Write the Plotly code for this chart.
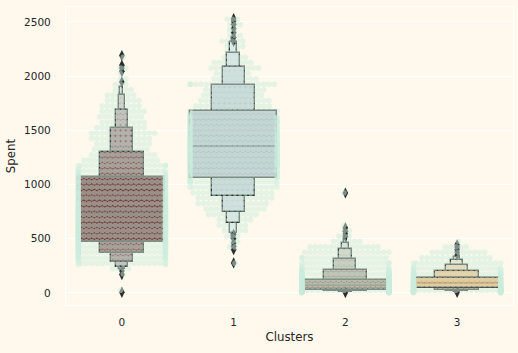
import plotly.graph_objects as go

# ---------------- data ----------------
clusters = [0, 1, 2, 3]
tick_labels = ["0", "1", "2", "3"]
y_ticks = [0, 500, 1000, 1500, 2000, 2500]

palette = ["#682F2F", "#B9C0C9", "#9F8A78", "#F3AB60"]

# letter-value boxes, innermost (level 1) first: (upper, lower)
lv_upper_0 = [1068, 1302, 1525, 1688, 1825, 1900]
lv_lower_0 = [470, 366, 289, 243, 221, 212]
lv_upper_1 = [1675, 1919, 2082, 2211, 2316, 2360]
lv_lower_1 = [1058, 895, 750, 643, 551, 500]
lv_upper_2 = [120, 212, 318, 406, 460, 495]
lv_lower_2 = [28, 20, 14, 10, 8, 6]
lv_upper_3 = [141, 203, 258, 304, 335]
lv_lower_3 = [43, 30, 20, 14, 10]

medians = [740, 1356, 72, 92]

outliers_0 = [6, 170, 205, 1947, 2045, 2075, 2100, 2190]
outliers_1 = [277, 400, 430, 460, 500, 540, 2320, 2360, 2400, 2440, 2480, 2510, 2530]
outliers_2 = [4, 520, 545, 570, 600, 922]
outliers_3 = [6, 350, 375, 400, 425, 445]

# swarm: number of customers per 50-unit "Spent" band (band k covers 50k..50k+50)
swarm_counts_0 = [1, 0, 0, 1, 4, 20, 24, 26, 28, 30, 30, 30, 30, 30, 30, 28, 28, 27, 26, 25,
                  25, 24, 22, 19, 15, 13, 11, 11, 12, 13, 10, 9, 9, 9, 8, 7, 6, 4, 3, 2,
                  1, 2, 0, 1]
swarm_counts_1 = [0, 0, 0, 0, 0, 1, 0, 0, 2, 2, 3, 5, 6, 7, 10, 12, 14, 15, 16, 18,
                  20, 22, 24, 25, 26, 26, 26, 26, 25, 24, 24, 23, 22, 18, 15, 14, 12, 12, 18, 9,
                  7, 10, 8, 5, 3, 4, 5, 3, 2, 3, 3]
swarm_counts_2 = [60, 50, 40, 32, 24, 19, 18, 17, 14, 6, 3, 2, 1, 0, 0, 0, 0, 0, 1]
swarm_counts_3 = [50, 40, 32, 26, 22, 18, 14, 11, 5, 1]

lv_upper = [lv_upper_0, lv_upper_1, lv_upper_2, lv_upper_3]
lv_lower = [lv_lower_0, lv_lower_1, lv_lower_2, lv_lower_3]
outliers = [outliers_0, outliers_1, outliers_2, outliers_3]
swarm_counts = [swarm_counts_0, swarm_counts_1, swarm_counts_2, swarm_counts_3]

# ---------------- styling ----------------
BG = "#FFF9ED"
EDGE = "#2d2d2d"
MINT = "rgba(203,237,221,0.5)"
TEXT = "#262626"
BAND = 50
FULL_W = 0.78


def hex_to_rgb(h):
    h = h.lstrip("#")
    return tuple(int(h[i:i + 2], 16) for i in (0, 2, 4))


def level_color(base, i, k):
    r, g, b = hex_to_rgb(base)
    t = 0.85 * i / max(k - 1, 1)
    return "rgb(%d,%d,%d)" % (round(r + (255 - r) * t), round(g + (255 - g) * t), round(b + (255 - b) * t))


fig = go.Figure()

# boxes: outermost levels first so that level 1 sits on top
for c, cx in enumerate(clusters):
    k = len(lv_upper[c])
    for i in reversed(range(k)):
        w = FULL_W * (0.5 ** i) * (1.0 if i < 3 else 1.15)
        fig.add_trace(go.Bar(
            x=[cx], y=[lv_upper[c][i] - lv_lower[c][i]], base=[lv_lower[c][i]],
            width=[w], marker=dict(color=level_color(palette[c], i, k),
                                   line=dict(color=EDGE, width=1.4)),
            showlegend=False, hoverinfo="skip"))
    # median line
    fig.add_trace(go.Scatter(
        x=[cx - FULL_W / 2, cx + FULL_W / 2], y=[medians[c], medians[c]],
        mode="lines", line=dict(color=EDGE, width=1.2), opacity=0.55,
        showlegend=False, hoverinfo="skip"))

# outliers
for c, cx in enumerate(clusters):
    fig.add_trace(go.Scatter(
        x=[cx] * len(outliers[c]), y=outliers[c], mode="markers",
        marker=dict(symbol="diamond-tall", size=8, color=EDGE, line=dict(width=0)),
        showlegend=False, hoverinfo="skip"))

# swarm points laid out band by band (hex-like rows)
DX = 0.047
MAXROW = 17
EDGE_X = 0.39
for c, cx in enumerate(clusters):
    xs, ys = [], []
    for kb, n in enumerate(swarm_counts[c]):
        if n <= 0:
            continue
        yc = BAND * kb + BAND / 2
        m = min(n, MAXROW)
        shift = (DX / 4) * (1 if kb % 2 else -1)
        for j in range(m):
            xs.append(cx + (j - (m - 1) / 2) * DX + shift)
            ys.append(yc)
        extra = n - m
        if extra > 0:
            per_side = (extra + 1) // 2
            for j in range(extra):
                side = -1 if j % 2 == 0 else 1
                idx = j // 2
                xs.append(cx + side * EDGE_X)
                ys.append(BAND * kb + BAND * (idx + 0.5) / per_side)
    fig.add_trace(go.Scatter(
        x=xs, y=ys, mode="markers",
        marker=dict(size=5.6, color=MINT, line=dict(width=0)),
        showlegend=False, hoverinfo="skip"))

fig.update_layout(
    width=518, height=353,
    margin=dict(l=66, r=5, t=7, b=48),
    paper_bgcolor=BG, plot_bgcolor=BG,
    barmode="overlay", bargap=0,
    font=dict(family="DejaVu Sans", color=TEXT, size=10.5),
)
fig.update_xaxes(
    range=[-0.5, 3.5], tickmode="array", tickvals=clusters, ticktext=tick_labels,
    showgrid=False, zeroline=False, showline=True, linecolor="white", linewidth=1.25,
    mirror=True, ticks="", ticklabelstandoff=7,
    title=dict(text="Clusters", font=dict(size=11.8, color=TEXT), standoff=6),
)
fig.update_yaxes(
    range=[-111, 2638], tickmode="array", tickvals=y_ticks,
    showgrid=True, gridcolor="white", gridwidth=1, zeroline=False,
    showline=True, linecolor="white", linewidth=1.25, mirror=True,
    ticks="", ticklabelstandoff=12,
    title=dict(text="Spent", font=dict(size=11.8, color=TEXT), standoff=5),
)

fig.write_html("out.html")
